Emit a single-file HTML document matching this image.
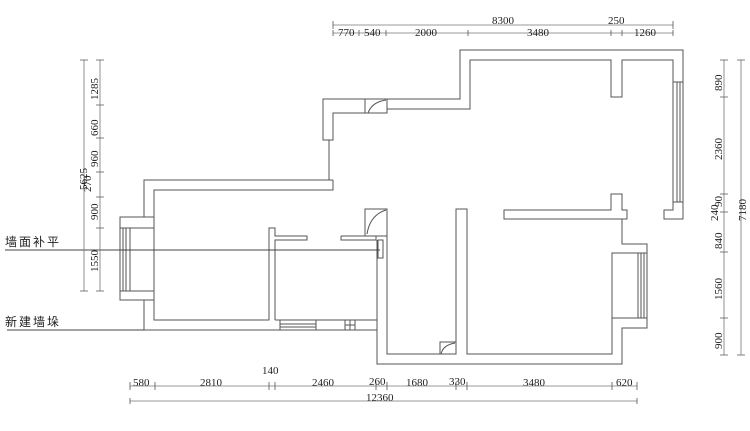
<!DOCTYPE html>
<html><head><meta charset="utf-8"><style>
html,body{margin:0;padding:0;background:#fff;}
svg{display:block;}
text{font-family:"Liberation Serif","Noto Serif CJK SC",serif;font-size:11px;fill:#222;}
.c{font-family:"Liberation Sans","Noto Sans CJK SC",sans-serif;font-size:12px;letter-spacing:2px;}
</style></head><body>
<svg width="750" height="431" viewBox="0 0 750 431" xmlns="http://www.w3.org/2000/svg">
<g fill="none" stroke="#555" stroke-width="1">
<!-- top right block -->
<polyline points="387,99 460,99 460,50 683,50 683,219 664,219 664,210 673,210 673,202"/>
<polyline points="387,109 470,109 470,60 611,60 611,97 622,97 622,60 673,60 673,82"/>
<rect x="673" y="82" width="10" height="120"/>
<line x1="677" y1="82" x2="677" y2="202"/><line x1="680" y1="82" x2="680" y2="202"/>
<!-- upper-left piece -->
<polyline points="365,99 323,99 323,140 333,140 333,113 365,113"/>
<rect x="365" y="99" width="22" height="14"/>
<path d="M368,113 Q372,102 386,100"/>
<line x1="329" y1="140" x2="329" y2="180"/>
<!-- left room -->
<polyline points="333,180 144,180 144,217 120,217 120,300 144,300 144,330 377,330"/>
<polyline points="333,180 333,190 154,190 154,217"/>
<polyline points="154,300 154,320 269,320 269,228 275,228 275,236 307,236 307,240 275,240 275,320"/>
<rect x="120" y="217" width="34" height="83"/>
<line x1="123" y1="228" x2="123" y2="291"/><line x1="126" y1="228" x2="126" y2="291"/><line x1="130" y1="228" x2="130" y2="291"/>
<line x1="120" y1="228" x2="154" y2="228"/><line x1="120" y1="291" x2="154" y2="291"/>
<polyline points="275,320 377,320"/>
<rect x="280" y="320" width="36" height="10"/><line x1="280" y1="324" x2="316" y2="324"/><line x1="280" y1="327" x2="316" y2="327"/>
<rect x="345" y="320" width="10" height="10"/><line x1="345" y1="325" x2="355" y2="325"/><line x1="350" y1="320" x2="350" y2="330"/>
<polyline points="341,236 376,236 376,240 341,240 341,236"/>
<line x1="377" y1="240" x2="377" y2="318"/>
<rect x="378" y="240" width="5" height="18"/>
<rect x="365" y="209" width="22" height="27"/>
<path d="M367,234 Q370,215 386,210"/>
<!-- lower middle -->
<polyline points="377,318 377,364 622,364 622,328 647,328 647,244 622,244 622,219"/>
<polyline points="387,236 387,354 456,354 456,209 467,209 467,354 612,354 612,253"/>
<rect x="440" y="342" width="16" height="12"/><path d="M441,354 Q443,345 455,343"/>
<!-- horizontal wall -->
<polyline points="611,219 504,219 504,210 611,210 611,194 622,194 622,210 627,210 627,219 611,219"/>
<rect x="612" y="253" width="35" height="65"/>
<line x1="638" y1="253" x2="638" y2="318"/><line x1="641" y1="253" x2="641" y2="318"/><line x1="644" y1="253" x2="644" y2="318"/>
</g>
<!-- leader lines -->
<g stroke="#444" stroke-width="1">
<line x1="5" y1="250" x2="380" y2="250"/>
<line x1="7" y1="330" x2="144" y2="330"/>
</g>
<!-- dimension lines -->
<g stroke="#777" stroke-width="0.8" fill="none">
<line x1="333" y1="25" x2="673" y2="25"/>
<line x1="333" y1="33" x2="673" y2="33"/>
<line x1="84" y1="60" x2="84" y2="291"/>
<line x1="100" y1="60" x2="100" y2="291"/>
<line x1="724" y1="60" x2="724" y2="355"/>
<line x1="741" y1="60" x2="741" y2="355"/>
<line x1="130" y1="386" x2="637" y2="386"/>
<line x1="130" y1="401" x2="637" y2="401"/>
<g stroke="#555">
<path d="M333,21v8M333,30v6M359,30v6M386,30v6M468,30v6M611,30v6M622,30v6M673,21v8M673,30v6"/>
<path d="M80,60h8M96,60h8M96,105h8M96,138h8M96,172h8M96,197h8M96,228h8M80,291h8M96,291h8"/>
<path d="M720,60h8M737,60h8M720,97h8M720,194h8M720,212h8M720,252h8M720,318h8M720,355h8M737,355h8"/>
<path d="M130,382v8M155,382v8M269,382v8M275,382v8M376,382v8M387,382v8M456,382v8M467,382v8M612,382v8M637,382v8M130,398v6M637,398v6"/>
</g>
</g>
<!-- top labels -->
<text x="338" y="36">770</text><text x="364" y="36">540</text><text x="415" y="36">2000</text>
<text x="527" y="36">3480</text><text x="634" y="36">1260</text>
<text x="492" y="24">8300</text><text x="608" y="24">250</text>
<!-- left labels -->
<g>
<text transform="translate(98,100) rotate(-90)">1285</text>
<text transform="translate(98,136) rotate(-90)">660</text>
<text transform="translate(98,167) rotate(-90)">960</text>
<text transform="translate(87,190) rotate(-90)">5625</text>
<text transform="translate(91,192) rotate(-90)">270</text>
<text transform="translate(98,220) rotate(-90)">900</text>
<text transform="translate(98,272) rotate(-90)">1550</text>
</g>
<!-- right labels -->
<g>
<text transform="translate(722,91) rotate(-90)">890</text>
<text transform="translate(722,160) rotate(-90)">2360</text>
<text transform="translate(718,221) rotate(-90)">240</text>
<text transform="translate(722,207) rotate(-90)">90</text>
<text transform="translate(722,249) rotate(-90)">840</text>
<text transform="translate(722,300) rotate(-90)">1560</text>
<text transform="translate(722,349) rotate(-90)">900</text>
<text transform="translate(746,221) rotate(-90)">7180</text>
</g>
<!-- bottom labels -->
<text x="133" y="386">580</text><text x="200" y="386">2810</text><text x="262" y="374">140</text>
<text x="312" y="386">2460</text><text x="369" y="385">260</text><text x="406" y="386">1680</text>
<text x="449" y="385">330</text><text x="523" y="386">3480</text><text x="616" y="386">620</text>
<text x="366" y="401">12360</text>
<text class="c" x="5" y="246">墙面补平</text>
<text class="c" x="5" y="326">新建墙垛</text>
</svg>
</body></html>
